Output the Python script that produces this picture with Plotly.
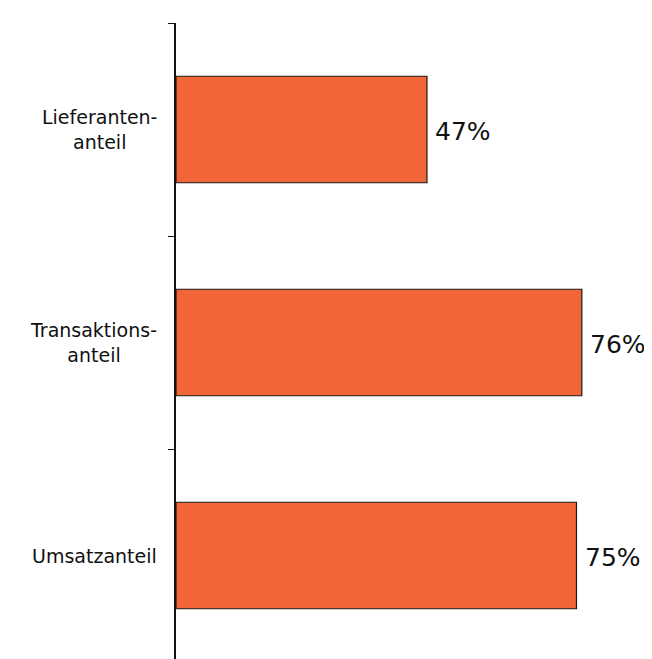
import plotly.graph_objects as go

categories = ["Lieferantenanteil", "Transaktionsanteil", "Umsatzanteil"]
label_lines = ["Lieferanten-<br>anteil", "Transaktions-<br>anteil", "Umsatzanteil"]
values = [47, 76, 75]
value_labels = ["47%", "76%", "75%"]

W, H = 644, 651
left, top = 168, 15
right_m = 0
px_per_pct = 5.34
band_px = 213.0

fig = go.Figure()
fig.add_trace(go.Bar(
    x=values, y=categories, orientation="h",
    marker=dict(color="#F26536", line=dict(color="#1a1a1a", width=1.2)),
    hoverinfo="skip",
))

for cat, v, t in zip(categories, values, value_labels):
    fig.add_annotation(
        x=v, xref="x", y=cat, yref="y", text=t, showarrow=False,
        xanchor="left", yanchor="middle", xshift=6, yshift=-2,
        font=dict(family="DejaVu Sans", size=25, color="#111111"),
    )

for cat, lab in zip(categories, label_lines):
    fig.add_annotation(
        x=0, xref="paper", y=cat, yref="y", text=lab, showarrow=False,
        xanchor="right", yanchor="middle", align="center", xshift=-17,
        font=dict(family="DejaVu Sans", size=19, color="#111111"),
    )

fig.update_layout(
    width=W, height=H,
    margin=dict(l=left, r=right_m, t=top, b=0, pad=0),
    paper_bgcolor="white", plot_bgcolor="white",
    showlegend=False, bargap=0.5,
    xaxis=dict(range=[0, (W - left - right_m) / px_per_pct], visible=False),
    yaxis=dict(
        type="category", categoryorder="array", categoryarray=categories,
        range=[-0.5 + (H - top) / band_px, -0.5],
        showticklabels=False, showline=True, linecolor="#111111", linewidth=1.5,
        ticks="outside", tickson="boundaries", ticklen=6, tickcolor="#111111", tickwidth=1.2,
        showgrid=False, zeroline=False,
    ),
)

fig.write_html("out.html")
